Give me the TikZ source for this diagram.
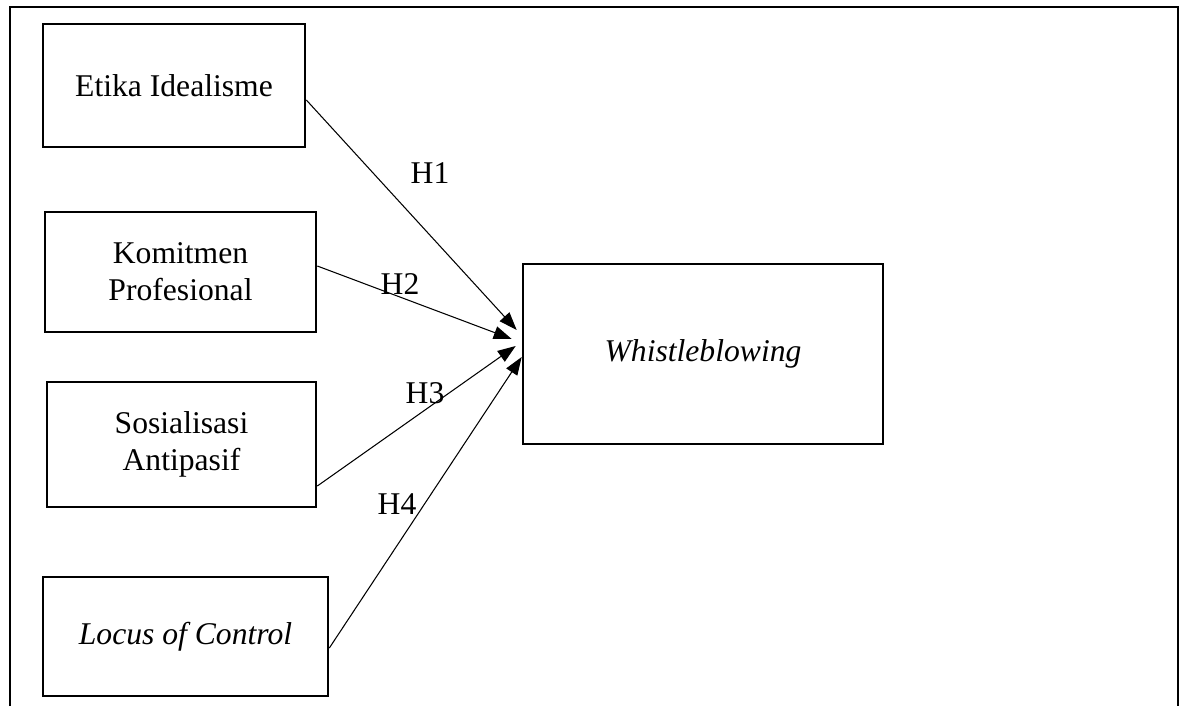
\documentclass[tikz,border=0pt]{standalone}
\usepackage{fontspec}
\setmainfont{Liberation Serif}
\usepackage{tikz}
\usetikzlibrary{arrows.meta, positioning, calc}

\tikzset{
  varbox/.style={draw, line width=1.5pt, align=center, inner sep=0pt},
  hyp/.style={-{Triangle[length=3.6mm, width=2.6mm]}, line width=0.6pt},
  hlabel/.style={inner sep=0pt}
}

\begin{document}
\begin{tikzpicture}[font=\fontsize{18}{21}\selectfont]
			\useasboundingbox (0,0) rectangle (23.68,-14.12);
			% outer frame, open at the bottom
			\draw[line width=1.6pt] (0.2,-14.12) -- (0.2,-0.14) -- (23.56,-0.14) -- (23.56,-14.12);
			% independent variables
			\node[varbox, minimum width=5.24cm, minimum height=2.46cm] (etika) at (3.48,-1.71) {Etika Idealisme};
			\node[varbox, minimum width=5.42cm, minimum height=2.40cm] (komitmen) at (3.61,-5.44) {Komitmen\\Profesional};
			\node[varbox, minimum width=5.38cm, minimum height=2.50cm] (sosialisasi) at (3.63,-8.89) {Sosialisasi\\Antipasif};
			\node[varbox, minimum width=5.70cm, minimum height=2.38cm] (locus) at (3.71,-12.73) {\textit{Locus of Control}};
			% dependent variable
			\node[varbox, minimum width=7.20cm, minimum height=3.60cm] (whistle) at (14.06,-7.08) {\textit{Whistleblowing}};
			% hypotheses
			\draw[hyp] ([yshift=-0.29cm]etika.east) -- ([xshift=-0.1cm, yshift=0.48cm]whistle.west);
			\draw[hyp] ([yshift=0.12cm]komitmen.east) -- ([xshift=-0.2cm, yshift=0.3cm]whistle.west);
			\draw[hyp] ([yshift=-0.83cm]sosialisasi.east) -- ([xshift=-0.12cm, yshift=0.16cm]whistle.west);
			\draw[hyp] ([yshift=-0.23cm]locus.east) -- ([yshift=-0.06cm]whistle.west);
			\node[hlabel] (h1) at (8.6,-3.46) {H1};
			\node[hlabel] (h2) at (8.0,-5.68) {H2};
			\node[hlabel] (h3) at (8.5,-7.86) {H3};
			\node[hlabel] (h4) at (7.94,-10.08) {H4};
		\end{tikzpicture}
\end{document}
